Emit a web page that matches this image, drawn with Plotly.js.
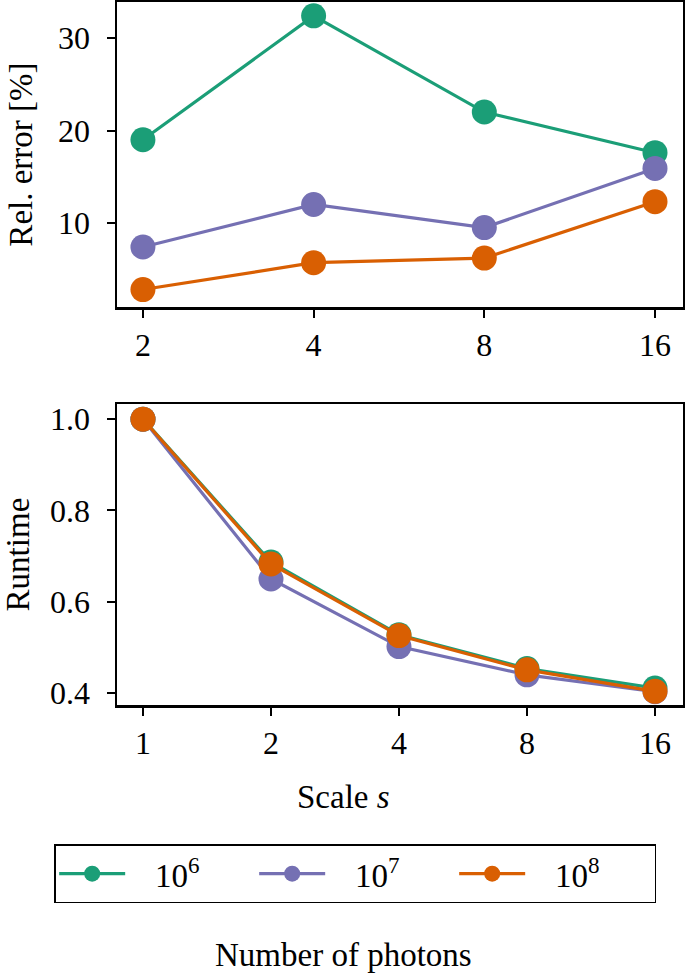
<!DOCTYPE html>
<html>
<head>
<meta charset="utf-8">
<script src="https://cdn.plot.ly/plotly-3.0.1.min.js"></script>
<style>html,body{margin:0;padding:0;background:#fff;}</style>
</head>
<body>
<div id="chart" style="width:685px;height:974px;"></div>
<script>
const seriesNames = ['10<sup>6</sup>', '10<sup>7</sup>', '10<sup>8</sup>'];
const colors = ['#1b9e77', '#7570b3', '#d95f02'];

const errScales = [2, 4, 8, 16];
const err1e6 = [19.0, 32.4, 22.0, 17.6];
const err1e7 = [7.4, 12.0, 9.5, 15.9];
const err1e8 = [2.8, 5.7, 6.2, 12.3];

const rtScales = [1, 2, 4, 8, 16];
const rt1e6 = [1.0, 0.687, 0.528, 0.454, 0.411];
const rt1e7 = [1.0, 0.650, 0.502, 0.440, 0.403];
const rt1e8 = [1.0, 0.683, 0.526, 0.451, 0.404];

const errTickVals = [10, 20, 30];
const rtTickVals = [0.4, 0.6, 0.8, 1.0];
const rtTickText = ['0.4', '0.6', '0.8', '1.0'];

const errSeries = [err1e6, err1e7, err1e8];
const rtSeries = [rt1e6, rt1e7, rt1e8];

const FAM = 'Liberation Serif';
function mkFont(sz) { return {family: FAM, size: sz, color: '#000'}; }
const PAD = '\u00a0\u00a0\u00a0';

const traces = [];
errSeries.forEach((ys, i) => {
  traces.push({x: errScales, y: ys, xaxis: 'x', yaxis: 'y', type: 'scatter', mode: 'lines+markers',
    name: PAD + seriesNames[i], legendgroup: 'g' + i, showlegend: true,
    line: {color: colors[i], width: 3.2}, marker: {color: colors[i], size: 25}});
});
rtSeries.forEach((ys, i) => {
  traces.push({x: rtScales, y: ys, xaxis: 'x2', yaxis: 'y2', type: 'scatter', mode: 'lines+markers',
    name: PAD + seriesNames[i], legendgroup: 'g' + i, showlegend: false,
    line: {color: colors[i], width: 3.2}, marker: {color: colors[i], size: 25}});
});

function ax(extra) {
  return Object.assign({showline: true, linecolor: '#000', linewidth: 2.5, mirror: true, ticks: 'outside',
    ticklen: 8, tickwidth: 2, tickcolor: '#000', showgrid: false, zeroline: false,
    tickfont: mkFont(32)}, extra);
}

const layout = {
  width: 685, height: 974,
  margin: {l: 117, r: 2, t: 2, b: 269},
  paper_bgcolor: '#fff', plot_bgcolor: '#fff',
  font: mkFont(32),
  showlegend: true,
  xaxis: ax({type: 'log', range: [0.2553, 1.2535], domain: [0, 1], anchor: 'y',
    tickvals: errScales, ticktext: errScales.map(String)}),
  yaxis: ax({range: [0.9, 33.9], domain: [0.566, 1], anchor: 'x', ticklabelstandoff: 10,
    tickvals: errTickVals, title: {text: 'Rel. error [%]', font: mkFont(33), standoff: 16}}),
  xaxis2: ax({type: 'log', range: [-0.0611, 1.2700], domain: [0, 1], anchor: 'y2',
    tickvals: rtScales, ticktext: rtScales.map(String)}),
  yaxis2: ax({range: [0.374, 1.033], domain: [0, 0.428], anchor: 'x2', ticklabelstandoff: 10,
    tickvals: rtTickVals, ticktext: rtTickText,
    title: {text: 'Runtime', font: mkFont(33), standoff: 16}}),
  legend: {orientation: 'h', x: -0.111, xanchor: 'left', y: -0.198, yanchor: 'top',
    bordercolor: '#000', borderwidth: 1.5, bgcolor: '#fff', entrywidth: 119, entrywidthmode: 'pixels',
    itemwidth: 66, font: mkFont(33), itemsizing: 'trace'},
  annotations: [
    {xref: 'paper', yref: 'paper', x: 0.401, y: -0.131, xanchor: 'center', yanchor: 'middle', showarrow: false,
      text: 'Scale <i>s</i>', font: mkFont(33)},
    {xref: 'paper', yref: 'paper', x: 0.401, y: -0.356, xanchor: 'center', yanchor: 'middle', showarrow: false,
      text: 'Number of photons', font: mkFont(33)}
  ]
};

Plotly.newPlot('chart', traces, layout, {displayModeBar: false, staticPlot: true});
</script>
</body>
</html>
